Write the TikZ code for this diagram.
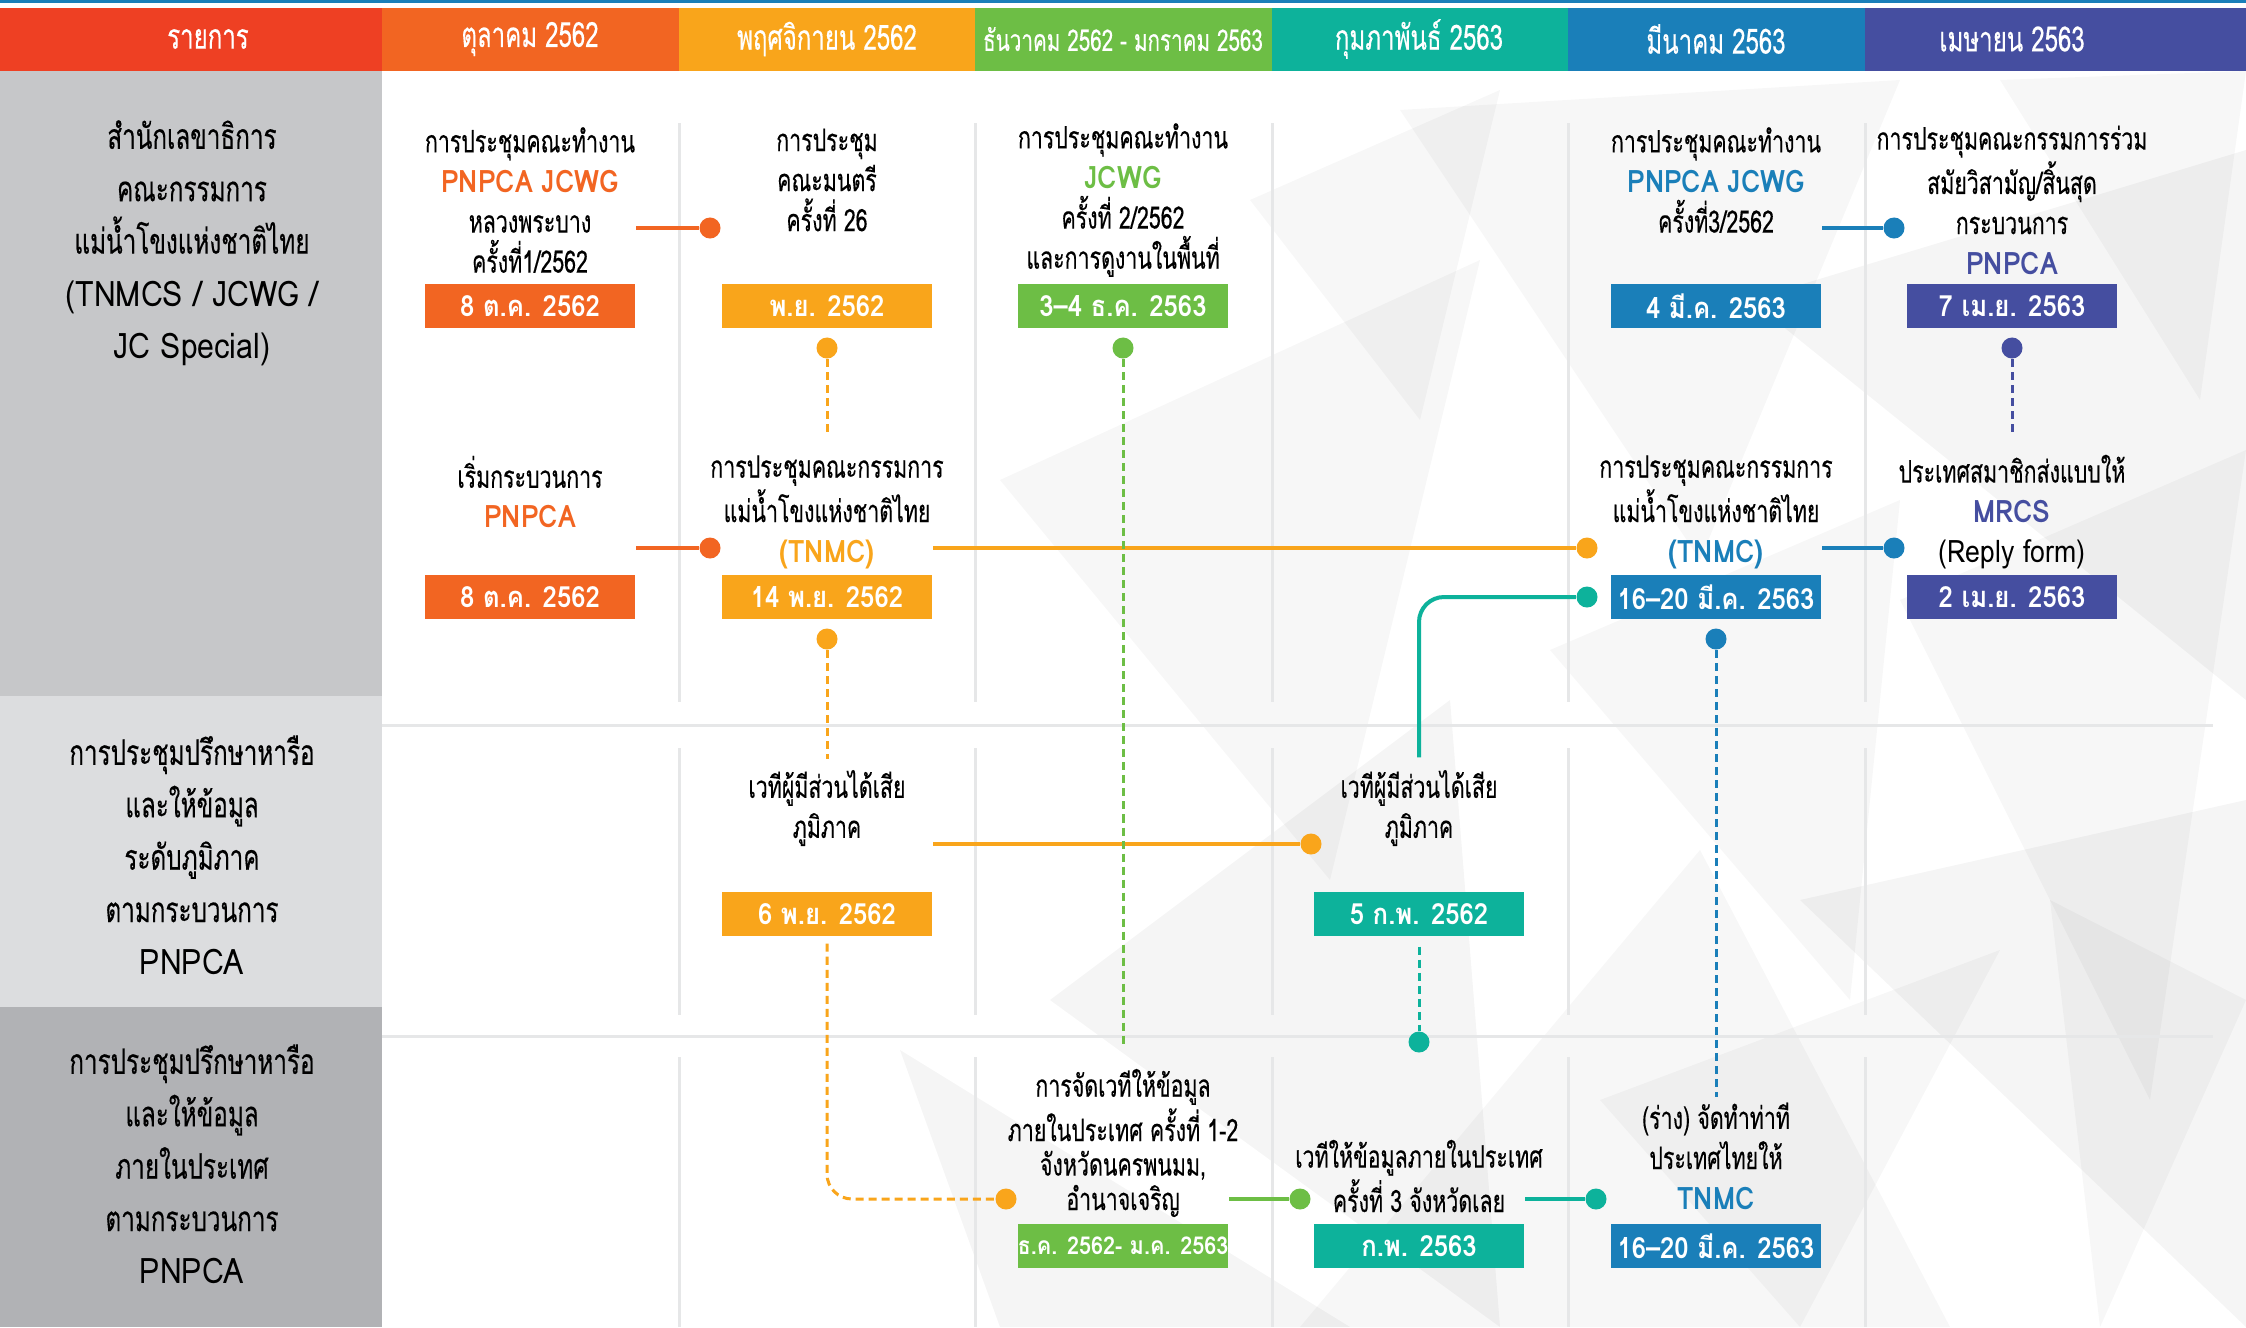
\documentclass[tikz,border=0pt]{standalone}
\usepackage{fontspec}
\setmainfont[Script=Thai,FakeStretch=0.69,FakeBold=0.3]{Loma}
\newfontfamily\latinfont[Script=Thai,FakeStretch=0.86]{Loma}
\newfontfamily\boxfont[Script=Thai,FakeStretch=0.88]{Loma}
\newcommand{\lattxt}[1]{{\latinfont #1}}
\newcommand{\hltxt}[2]{\textcolor{#1}{\latinfont\bfseries #2}}
\definecolor{hdred}{HTML}{EE4023}
\definecolor{corange}{HTML}{F26522}
\definecolor{cyellow}{HTML}{F9A51B}
\definecolor{cgreen}{HTML}{6DBE45}
\definecolor{cteal}{HTML}{0DB29B}
\definecolor{cblue}{HTML}{1A7FB9}
\definecolor{cindigo}{HTML}{454EA0}
\definecolor{panelA}{HTML}{C6C7C9}
\definecolor{panelB}{HTML}{DCDDDF}
\definecolor{panelC}{HTML}{B1B2B5}
\definecolor{gridgray}{HTML}{E6E7E8}
\begin{document}
\begin{tikzpicture}[x=0.01cm,y=-0.01cm,
    evtext/.style={align=center,inner sep=0pt,font=\fontsize{8.8}{11.4}\selectfont},
    sidetext/.style={align=center,inner sep=0pt,font=\fontsize{10}{14.9}\selectfont},
    headtext/.style={text=white,inner sep=0pt,font=\fontsize{9.9}{11}\selectfont},
    datebox/.style={fill=#1,text=white,minimum width=2.1cm,minimum height=0.44cm,inner sep=0pt,font=\fontsize{8.3}{10}\boxfont\bfseries},
    evdot/.style={circle,fill=#1,inner sep=0pt,minimum size=0.21cm},
    link/.style={#1,line width=0.04cm},
    dlink/.style={#1,line width=0.03cm,dash pattern=on 0.08cm off 0.05cm},
    gridline/.style={gridgray,line width=0.03cm}]
    \useasboundingbox (0,0) rectangle (2246,1327);
    \fill[white] (0,0) rectangle (2246,1327);
    % faint facets behind the right half
    \fill[black,opacity=0.03] (1000,480) -- (1480,260) -- (1330,880) -- cycle;
    \fill[black,opacity=0.03] (1400,110) -- (1900,80) -- (1700,560) -- cycle;
    \fill[black,opacity=0.04] (1750,300) -- (2246,150) -- (2246,700) -- cycle;
    \fill[black,opacity=0.03] (1900,600) -- (2246,450) -- (2150,1100) -- cycle;
    \fill[black,opacity=0.04] (1050,1000) -- (1450,700) -- (1500,1327) -- cycle;
    \fill[black,opacity=0.03] (1300,1327) -- (1700,850) -- (1950,1327) -- cycle;
    \fill[black,opacity=0.04] (1800,900) -- (2246,800) -- (2246,1327) -- cycle;
    \fill[black,opacity=0.03] (1550,650) -- (1900,500) -- (1850,1000) -- cycle;
    \fill[black,opacity=0.04] (900,1050) -- (1000,1327) -- (1350,1327) -- cycle;
    \fill[black,opacity=0.03] (2000,80) -- (2246,71) -- (2200,400) -- cycle;
    \fill[black,opacity=0.03] (1600,1100) -- (2000,950) -- (1800,1327) -- cycle;
    \fill[black,opacity=0.03] (1250,200) -- (1500,90) -- (1420,420) -- cycle;
    \fill[black,opacity=0.03] (2050,900) -- (2246,1000) -- (2100,1327) -- cycle;
    % month header
    \fill[cblue] (0,0) rectangle (2246,3);
    \fill[hdred] (0,8) rectangle (382,71);
    \fill[corange] (382,8) rectangle (679,71);
    \fill[cyellow] (679,8) rectangle (975,71);
    \fill[cgreen] (975,8) rectangle (1272,71);
    \fill[cteal] (1272,8) rectangle (1568,71);
    \fill[cblue] (1568,8) rectangle (1865,71);
    \fill[cindigo] (1865,8) rectangle (2246,71);
    \node[headtext] (hd0) at (208,39) {รายการ};
    \node[headtext] (hd1) at (530,39) {ตุลาคม 2562};
    \node[headtext] (hd2) at (827,39) {พฤศจิกายน 2562};
    \node[headtext,font=\fontsize{8.5}{11}\selectfont] (hd3) at (1123,39) {ธันวาคม 2562 - มกราคม 2563};
    \node[headtext] (hd4) at (1419,39) {กุมภาพันธ์ 2563};
    \node[headtext] (hd5) at (1716,39) {มีนาคม 2563};
    \node[headtext] (hd6) at (2012,39) {เมษายน 2563};
    % row titles
    \fill[panelA] (0,71) rectangle (382,696);
    \fill[panelB] (0,696) rectangle (382,1007);
    \fill[panelC] (0,1007) rectangle (382,1327);
    \node[sidetext] (side1) at (192,243) {สำนักเลขาธิการ\\คณะกรรมการ\\แม่น้ำโขงแห่งชาติไทย\\\lattxt{(TNMCS / JCWG /}\\\lattxt{JC Special)}};
    \node[sidetext] (side2) at (192,855) {การประชุมปรึกษาหารือ\\และให้ข้อมูล\\ระดับภูมิภาค\\ตามกระบวนการ\\\lattxt{PNPCA}};
    \node[sidetext] (side3) at (192,1164) {การประชุมปรึกษาหารือ\\และให้ข้อมูล\\ภายในประเทศ\\ตามกระบวนการ\\\lattxt{PNPCA}};
    % grid
    \draw[gridline] (382,725) -- (2213,725);
    \draw[gridline] (382,1036) -- (2213,1036);
    \draw[gridline] (679,123) -- (679,702);
    \draw[gridline] (975,123) -- (975,702);
    \draw[gridline] (1272,123) -- (1272,702);
    \draw[gridline] (1568,123) -- (1568,702);
    \draw[gridline] (1865,123) -- (1865,702);
    \draw[gridline] (679,748) -- (679,1015);
    \draw[gridline] (975,748) -- (975,1015);
    \draw[gridline] (1272,748) -- (1272,1015);
    \draw[gridline] (1568,748) -- (1568,1015);
    \draw[gridline] (1865,748) -- (1865,1015);
    \draw[gridline] (679,1057) -- (679,1327);
    \draw[gridline] (975,1057) -- (975,1327);
    \draw[gridline] (1272,1057) -- (1272,1327);
    \draw[gridline] (1568,1057) -- (1568,1327);
    \draw[gridline] (1865,1057) -- (1865,1327);
    % secretariat meetings
    \node[evtext] (t1a) at (530,200) {การประชุมคณะทำงาน\\\hltxt{corange}{PNPCA JCWG}\\หลวงพระบาง\\ครั้งที่1/2562};
    \node[datebox=corange] (d1a) at (530,306) {8 ต.ค. 2562};
    \node[evtext] (t2a) at (827,180) {การประชุม\\คณะมนตรี\\ครั้งที่ 26};
    \node[datebox=cyellow] (d2a) at (827,306) {พ.ย. 2562};
    \node[evtext] (t3a) at (1123,200) {การประชุมคณะทำงาน\\\hltxt{cgreen}{JCWG}\\ครั้งที่ 2/2562\\และการดูงานในพื้นที่};
    \node[datebox=cgreen] (d3a) at (1123,306) {3–4 ธ.ค. 2563};
    \node[evtext] (t5a) at (1716,180) {การประชุมคณะทำงาน\\\hltxt{cblue}{PNPCA JCWG}\\ครั้งที่3/2562};
    \node[datebox=cblue] (d5a) at (1716,306) {4 มี.ค. 2563};
    \node[evtext] (t6a) at (2012,200) {การประชุมคณะกรรมการร่วม\\สมัยวิสามัญ/สิ้นสุด\\กระบวนการ\\\hltxt{cindigo}{PNPCA}};
    \node[datebox=cindigo] (d6a) at (2012,306) {7 เม.ย. 2563};
    \node[evtext] (t1b) at (530,492) {เริ่มกระบวนการ\\\hltxt{corange}{PNPCA}};
    \node[datebox=corange] (d1b) at (530,597) {8 ต.ค. 2562};
    \node[evtext] (t2b) at (827,512) {การประชุมคณะกรรมการ\\แม่น้ำโขงแห่งชาติไทย\\\hltxt{cyellow}{(TNMC)}};
    \node[datebox=cyellow] (d2b) at (827,597) {14 พ.ย. 2562};
    \node[evtext] (t5b) at (1716,512) {การประชุมคณะกรรมการ\\แม่น้ำโขงแห่งชาติไทย\\\hltxt{cblue}{(TNMC)}};
    \node[datebox=cblue] (d5b) at (1716,597) {16–20 มี.ค. 2563};
    \node[evtext] (t6b) at (2012,512) {ประเทศสมาชิกส่งแบบให้\\\hltxt{cindigo}{MRCS}\\\lattxt{(Reply form)}};
    \node[datebox=cindigo] (d6b) at (2012,597) {2 เม.ย. 2563};
    % regional consultation
    \node[evtext] (t2c) at (827,808) {เวทีผู้มีส่วนได้เสีย\\ภูมิภาค};
    \node[datebox=cyellow] (d2c) at (827,914) {6 พ.ย. 2562};
    \node[evtext] (t4b) at (1419,808) {เวทีผู้มีส่วนได้เสีย\\ภูมิภาค};
    \node[datebox=cteal] (d4c) at (1419,914) {5 ก.พ. 2562};
    % national consultation
    \node[evtext,font=\fontsize{8.8}{9.8}\selectfont] (t3c) at (1123,1143) {การจัดเวทีให้ข้อมูล\\ภายในประเทศ ครั้งที่ 1-2\\จังหวัดนครพนมม,\\อำนาจเจริญ};
    \node[datebox=cgreen,font=\fontsize{7}{9}\boxfont\bfseries] (d3d) at (1123,1246) {ธ.ค. 2562- ม.ค. 2563};
    \node[evtext,font=\fontsize{8.8}{10.8}\selectfont] (t4d) at (1419,1176) {เวทีให้ข้อมูลภายในประเทศ\\ครั้งที่ 3 จังหวัดเลย};
    \node[datebox=cteal] (d4d) at (1419,1246) {ก.พ. 2563};
    \node[evtext] (t5d) at (1716,1156) {(ร่าง) จัดทำท่าที\\ประเทศไทยให้\\\hltxt{cblue}{TNMC}};
    \node[datebox=cblue] (d5e) at (1716,1246) {16–20 มี.ค. 2563};
    % dots
    \node[evdot=corange] (p1a) at (710,228) {};
    \node[evdot=cblue] (p5a) at (1894,228) {};
    \node[evdot=cyellow] (p2a) at (827,348) {};
    \node[evdot=cgreen] (p3a) at (1123,348) {};
    \node[evdot=cindigo] (p6a) at (2012,348) {};
    \node[evdot=corange] (p1b) at (710,548) {};
    \node[evdot=cyellow] (p5b) at (1587,548) {};
    \node[evdot=cblue] (p5c) at (1894,548) {};
    \node[evdot=cteal] (p4a) at (1587,597) {};
    \node[evdot=cyellow] (p2b) at (827,639) {};
    \node[evdot=cblue] (p5d) at (1716,639) {};
    \node[evdot=cyellow] (p4b) at (1311,844) {};
    \node[evdot=cteal] (p4c) at (1419,1042) {};
    \node[evdot=cyellow] (p3b) at (1006,1199) {};
    \node[evdot=cgreen] (p4e) at (1300,1199) {};
    \node[evdot=cteal] (p5e) at (1596,1199) {};
    % links
    \draw[link=corange] (p1a) -- (p1a -| d1a.east);
    \draw[link=cblue] (p5a) -- (p5a -| d5a.east);
    \draw[link=corange] (p1b) -- (p1b -| d1b.east);
    \draw[link=cyellow] (p5b) -- (p5b -| d2b.east);
    \draw[link=cblue] (p5c) -- (p5c -| d5b.east);
    \draw[link=cteal,rounded corners=0.25cm] (p4a) -| ([yshift=0.12cm]t4b.north);
    \draw[link=cyellow] (p4b) -- (p4b -| d2c.east);
    \draw[link=cgreen] (p4e) -- (p4e -| d3d.east);
    \draw[link=cteal] (p5e) -- (p5e -| d4d.east);
    \draw[dlink=cyellow] (p2a) -- ([yshift=0.2cm]t2b.north);
    \draw[dlink=cgreen] (p3a) -- ([yshift=0.2cm]t3c.north);
    \draw[dlink=cindigo] (p6a) -- ([yshift=0.2cm]t6b.north);
    \draw[dlink=cyellow] (p2b) -- ([yshift=0.1cm]t2c.north);
    \draw[dlink=cyellow,rounded corners=0.25cm] ([yshift=-0.07cm]d2c.south) |- (p3b);
    \draw[dlink=cteal] ([yshift=-0.1cm]d4c.south) -- (p4c);
    \draw[dlink=cblue] (p5d) -- ([yshift=0.05cm]t5d.north);
\end{tikzpicture}
\end{document}
